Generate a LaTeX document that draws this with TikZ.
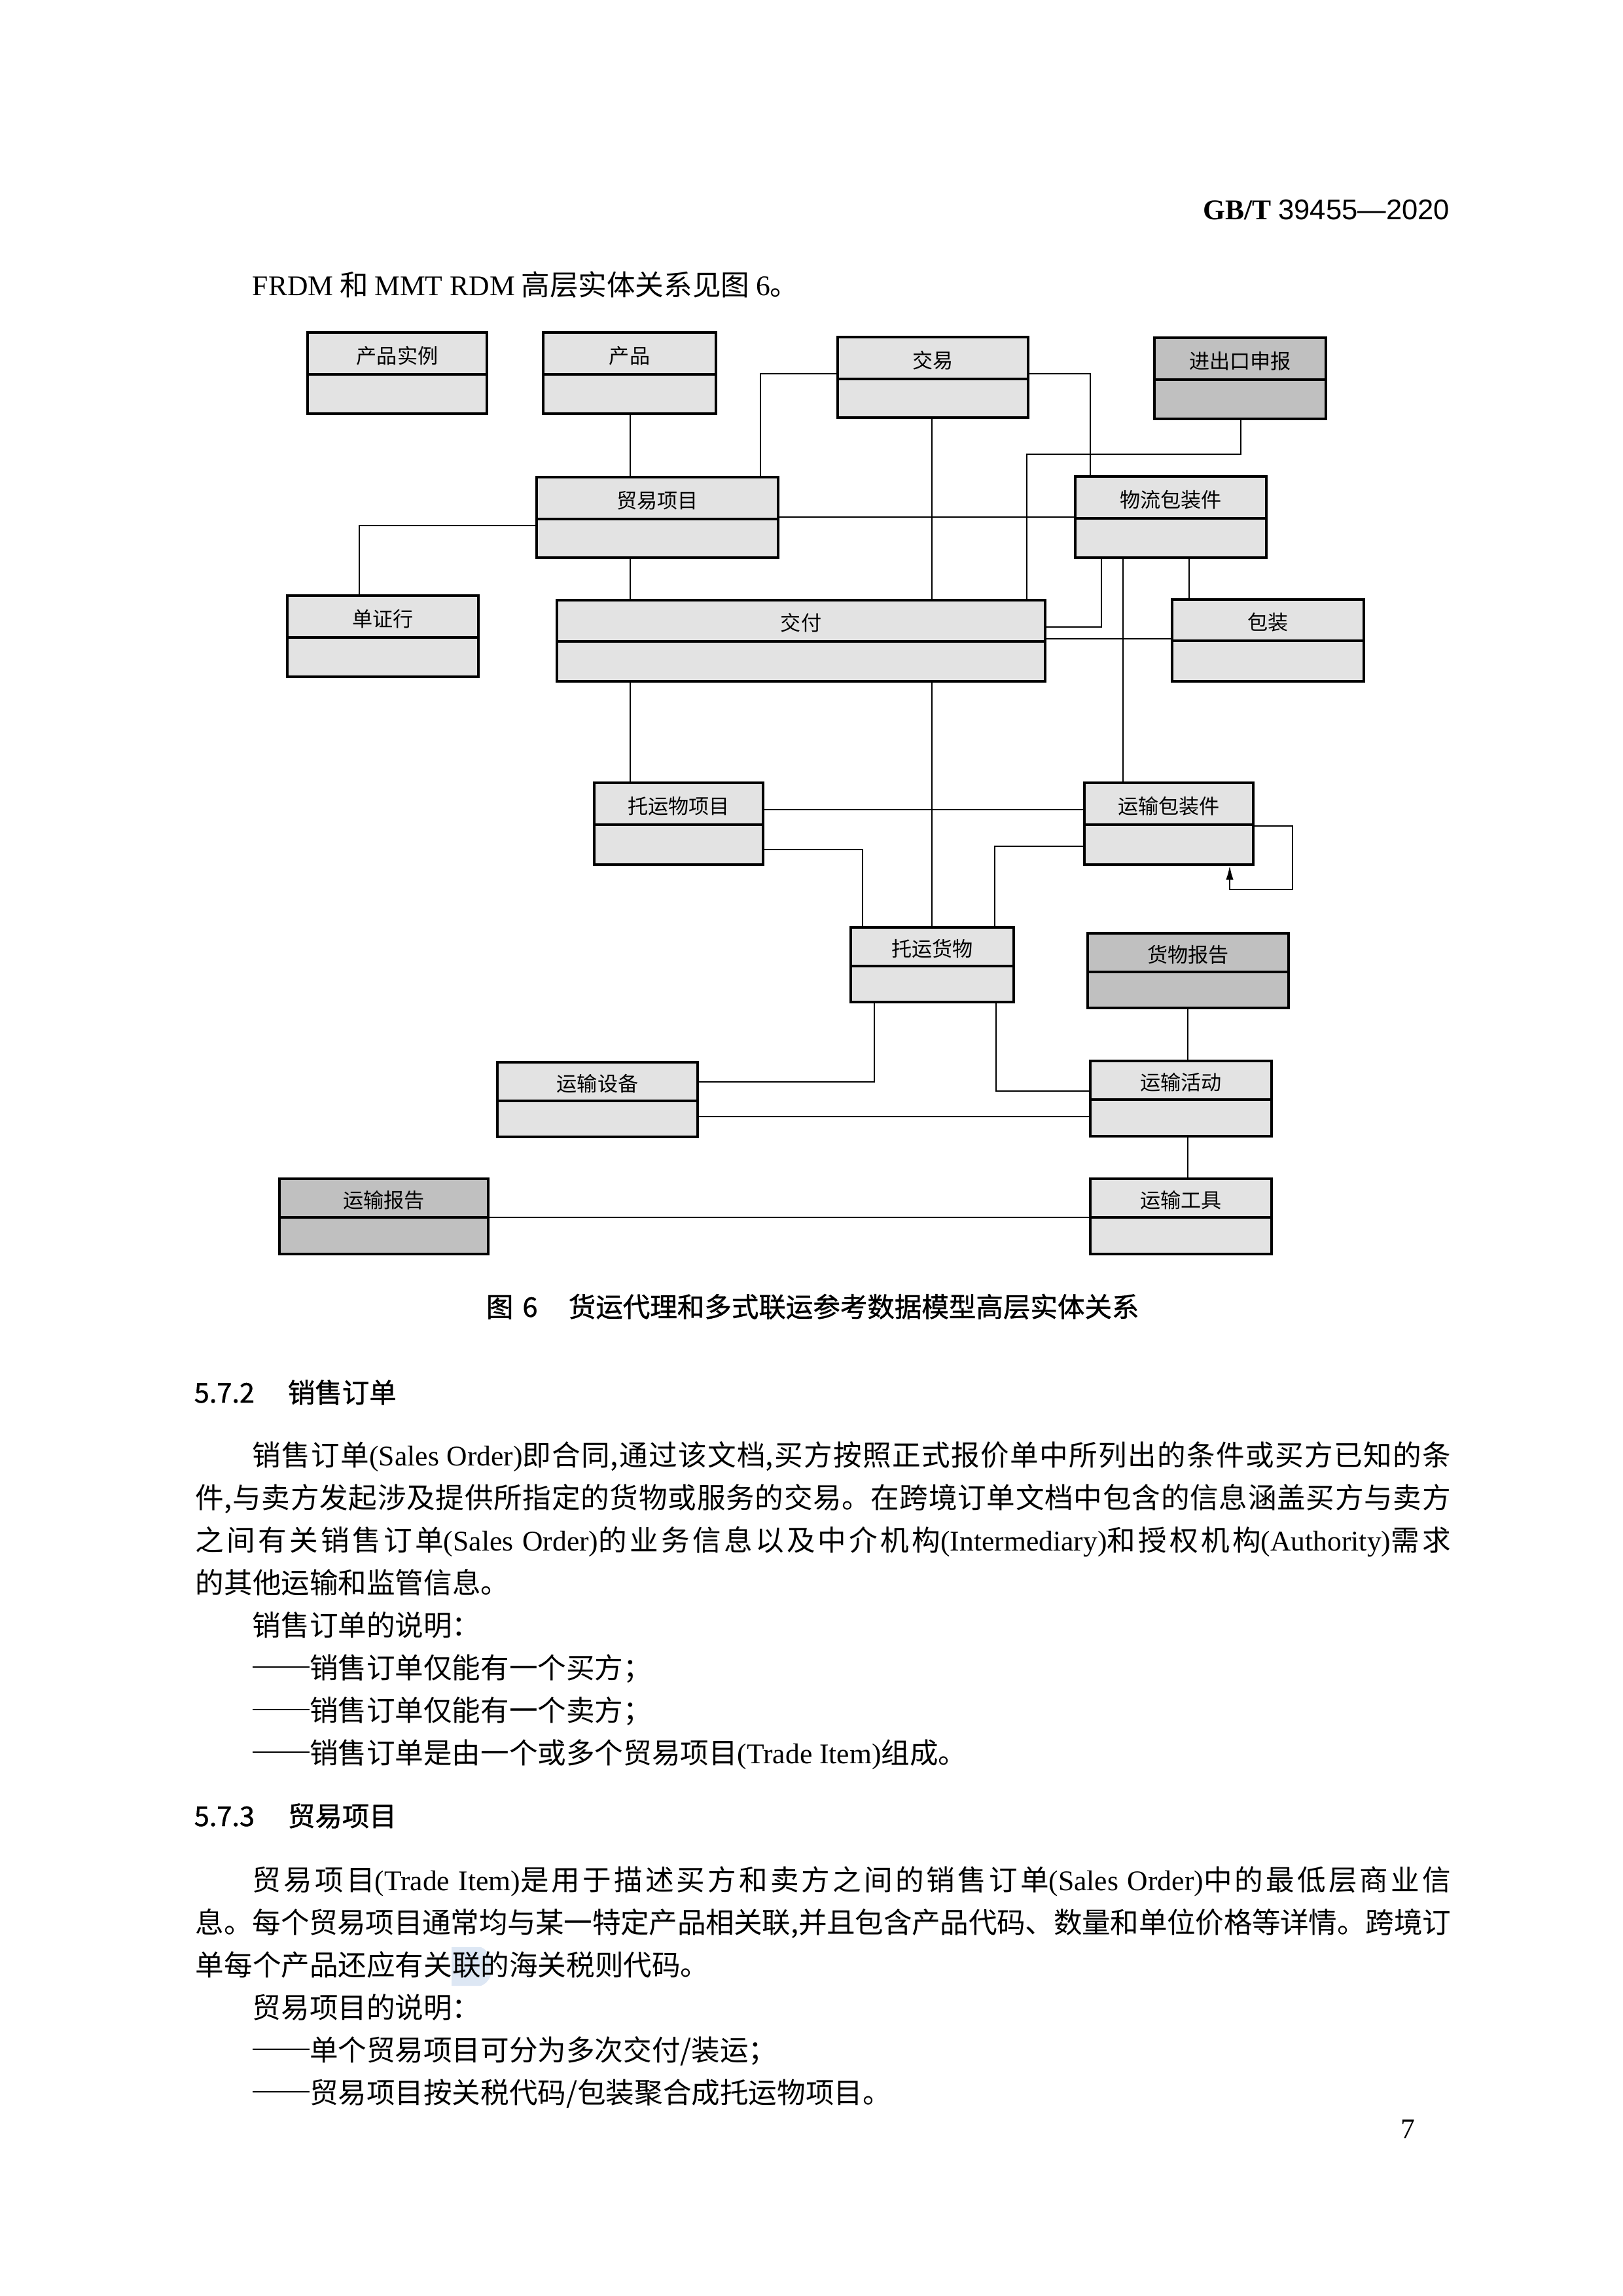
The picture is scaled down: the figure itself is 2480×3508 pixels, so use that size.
\documentclass[tikz,border=0pt]{standalone}
\usepackage{fontspec}
\setmainfont{Liberation Serif}
\setsansfont{Liberation Sans}
\newfontfamily\cjk{Noto Sans CJK SC}
\newfontfamily\hei[FakeBold=1]{Noto Sans CJK SC}
\usepackage{xcolor}
\usetikzlibrary{fit,arrows.meta}
\XeTeXlinebreaklocale "zh"
\XeTeXlinebreakskip=0pt plus 2pt minus 0.5pt
\newcommand{\lat}[1]{{\rmfamily #1}}
\newcommand{\dashes}{\rule[0.36em]{2em}{0.45pt}}
\definecolor{lightbox}{HTML}{E3E3E3}
\definecolor{darkbox}{HTML}{C0C0C0}
\definecolor{hlmark}{HTML}{DDE7F4}

\begin{document}
\begin{tikzpicture}[x=0.08467mm, y=-0.08467mm,
  entity/.style={draw=black, line width=0.75pt, fill=lightbox, inner sep=0pt},
  report/.style={entity, fill=darkbox},
  divider/.style={black, line width=0.75pt},
  boxtitle/.style={font=\cjk\fontsize{7.5pt}{9pt}\selectfont, inner sep=0pt},
  link/.style={black, line width=0.5pt},
  body/.style={anchor=base west, inner sep=0pt, font=\cjk\fontsize{10.5pt}{15.6pt}\selectfont},
  fullline/.style={body, text width=162.4mm, align=justify, execute at begin node={\parfillskip=0pt\relax}},
  indentline/.style={body, text width=155.03mm, align=justify, execute at begin node={\parfillskip=0pt\relax}},
  heading/.style={anchor=base west, inner sep=0pt, font=\hei\fontsize{10pt}{12pt}\selectfont}]
  \useasboundingbox[fill=white] (0,0) rectangle (2480,3508);

  \node[anchor=base east, inner sep=0pt, font=\fontsize{10.5pt}{12pt}\selectfont] (hdr) at (2216,335) {\textbf{GB/T} \textsf{39455—2020}};
  \node[body] (intro) at (385,451) {\lat{FRDM} 和 \lat{MMT RDM} 高层实体关系见图 \lat{6}。};

  \node[entity, fit={(470,508) (744,632)}] (cpsl) {};
  \draw[divider] (cpsl.west |- 0,572) -- (cpsl.east |- 0,572);
  \node[boxtitle] at (cpsl.north |- 0,544) {产品实例};
  \node[entity, fit={(830,508) (1094,632)}] (cp) {};
  \draw[divider] (cp.west |- 0,572) -- (cp.east |- 0,572);
  \node[boxtitle] at (cp.north |- 0,544) {产品};
  \node[entity, fit={(1280,515) (1571,638)}] (jy) {};
  \draw[divider] (jy.west |- 0,579) -- (jy.east |- 0,579);
  \node[boxtitle] at (jy.north |- 0,551) {交易};
  \node[report, fit={(1764,516) (2026,640)}] (jck) {};
  \draw[divider] (jck.west |- 0,580) -- (jck.east |- 0,580);
  \node[boxtitle] at (jck.north |- 0,552) {进出口申报};
  \node[entity, fit={(820,729) (1189,852)}] (myxm) {};
  \draw[divider] (myxm.west |- 0,793) -- (myxm.east |- 0,793);
  \node[boxtitle] at (myxm.north |- 0,765) {贸易项目};
  \node[entity, fit={(1643,728) (1935,852)}] (wlbzj) {};
  \draw[divider] (wlbzj.west |- 0,792) -- (wlbzj.east |- 0,792);
  \node[boxtitle] at (wlbzj.north |- 0,764) {物流包装件};
  \node[entity, fit={(439,910) (731,1034)}] (dzh) {};
  \draw[divider] (dzh.west |- 0,974) -- (dzh.east |- 0,974);
  \node[boxtitle] at (dzh.north |- 0,946) {单证行};
  \node[entity, fit={(851,917) (1597,1041)}] (jf) {};
  \draw[divider] (jf.west |- 0,980) -- (jf.east |- 0,980);
  \node[boxtitle] at (jf.north |- 0,952) {交付};
  \node[entity, fit={(1791,916) (2084,1041)}] (bz) {};
  \draw[divider] (bz.west |- 0,979) -- (bz.east |- 0,979);
  \node[boxtitle] at (bz.north |- 0,951) {包装};
  \node[entity, fit={(908,1196) (1166,1321)}] (tywxm) {};
  \draw[divider] (tywxm.west |- 0,1260) -- (tywxm.east |- 0,1260);
  \node[boxtitle] at (tywxm.north |- 0,1232) {托运物项目};
  \node[entity, fit={(1657,1196) (1915,1321)}] (ysbzj) {};
  \draw[divider] (ysbzj.west |- 0,1260) -- (ysbzj.east |- 0,1260);
  \node[boxtitle] at (ysbzj.north |- 0,1232) {运输包装件};
  \node[entity, fit={(1300,1417) (1549,1531)}] (tyhw) {};
  \draw[divider] (tyhw.west |- 0,1476) -- (tyhw.east |- 0,1476);
  \node[boxtitle] at (tyhw.north |- 0,1450) {托运货物};
  \node[report, fit={(1662,1426) (1969,1540)}] (hwbg) {};
  \draw[divider] (hwbg.west |- 0,1485) -- (hwbg.east |- 0,1485);
  \node[boxtitle] at (hwbg.north |- 0,1459) {货物报告};
  \node[entity, fit={(760,1623) (1066,1737)}] (yssb) {};
  \draw[divider] (yssb.west |- 0,1682) -- (yssb.east |- 0,1682);
  \node[boxtitle] at (yssb.north |- 0,1656) {运输设备};
  \node[entity, fit={(1666,1621) (1943,1736)}] (yshd) {};
  \draw[divider] (yshd.west |- 0,1680) -- (yshd.east |- 0,1680);
  \node[boxtitle] at (yshd.north |- 0,1654) {运输活动};
  \node[report, fit={(427,1801) (746,1916)}] (ysbg) {};
  \draw[divider] (ysbg.west |- 0,1860) -- (ysbg.east |- 0,1860);
  \node[boxtitle] at (ysbg.north |- 0,1834) {运输报告};
  \node[entity, fit={(1666,1801) (1943,1916)}] (ysgj) {};
  \draw[divider] (ysgj.west |- 0,1860) -- (ysgj.east |- 0,1860);
  \node[boxtitle] at (ysgj.north |- 0,1834) {运输工具};

  \draw[link] (cp.south -| 963,0) -- (myxm.north -| 963,0);
  \draw[link] (jy.west |- 0,571) -| (myxm.north -| 1162,0);
  \draw[link] (jy.east |- 0,571) -| (wlbzj.north -| 1666,0);
  \draw[link] (jy.south -| 1424,0) -- (jf.north -| 1424,0);
  \draw[link] (jck.south -| 1896,0) -- (1896,694) -| (jf.north -| 1569,0);
  \draw[link] (myxm.east |- 0,790) -- (wlbzj.west |- 0,790);
  \draw[link] (myxm.west |- 0,803) -| (dzh.north -| 549,0);
  \draw[link] (myxm.south -| 963,0) -- (jf.north -| 963,0);
  \draw[link] (wlbzj.south -| 1683,0) |- (jf.east |- 0,958);
  \draw[link] (wlbzj.south -| 1716,0) -- (ysbzj.north -| 1716,0);
  \draw[link] (wlbzj.south -| 1817,0) -- (bz.north -| 1817,0);
  \draw[link] (jf.east |- 0,976) -- (bz.west |- 0,976);
  \draw[link] (jf.south -| 963,0) -- (tywxm.north -| 963,0);
  \draw[link] (jf.south -| 1424,0) -- (tyhw.north -| 1424,0);
  \draw[link] (tywxm.east |- 0,1237) -- (ysbzj.west |- 0,1237);
  \draw[link] (tywxm.east |- 0,1298) -| (tyhw.north -| 1318,0);
  \draw[link] (ysbzj.west |- 0,1293) -| (tyhw.north -| 1520,0);
  \draw[link, -{Latex[length=1.8mm, width=0.95mm]}] (ysbzj.east |- 0,1262) -| (1975,1359) -| (ysbzj.south -| 1879,0);
  \draw[link] (tyhw.south -| 1336,0) |- (yssb.east |- 0,1653);
  \draw[link] (tyhw.south -| 1522,0) |- (yshd.west |- 0,1667);
  \draw[link] (yssb.east |- 0,1706) -- (yshd.west |- 0,1706);
  \draw[link] (hwbg.south -| 1815,0) -- (yshd.north -| 1815,0);
  \draw[link] (yshd.south -| 1815,0) -- (ysgj.north -| 1815,0);
  \draw[link] (ysbg.east |- 0,1860) -- (ysgj.west |- 0,1860);

  \node[heading] (cap) at (742,2012) {图\hspace{1.2mm}6\hspace{4mm}货运代理和多式联运参考数据模型高层实体关系};

  \node[heading] (h572) at (296,2143) {5.7.2\hspace{4.3mm}销售订单};
  \node[indentline] (p1a) at (385,2239) {销售订单\lat{(Sales Order)}即合同,通过该文档,买方按照正式报价单中所列出的条件或买方已知的条};
  \node[fullline] (p1b) at (298,2304) {件,与卖方发起涉及提供所指定的货物或服务的交易。在跨境订单文档中包含的信息涵盖买方与卖方};
  \node[fullline] (p1c) at (298,2369) {之间有关销售订单\lat{(Sales Order)}的业务信息以及中介机构\lat{(Intermediary)}和授权机构\lat{(Authority)}需求};
  \node[body] (p1d) at (298,2434) {的其他运输和监管信息。};
  \node[body] (n1) at (385,2499) {销售订单的说明：};
  \node[body] (n1a) at (385,2564) {\dashes 销售订单仅能有一个买方；};
  \node[body] (n1b) at (385,2629) {\dashes 销售订单仅能有一个卖方；};
  \node[body] (n1c) at (385,2694) {\dashes 销售订单是由一个或多个贸易项目\lat{(Trade Item)}组成。};

  \node[heading] (h573) at (296,2790) {5.7.3\hspace{4.3mm}贸易项目};
  \fill[hlmark] (690,2975) -- (735,2975) .. controls (758,2985) and (758,3025) .. (735,3034) -- (690,3034) -- cycle;
  \node[indentline] (p2a) at (385,2888) {贸易项目\lat{(Trade Item)}是用于描述买方和卖方之间的销售订单\lat{(Sales Order)}中的最低层商业信};
  \node[fullline] (p2b) at (298,2953) {息。每个贸易项目通常均与某一特定产品相关联,并且包含产品代码、数量和单位价格等详情。跨境订};
  \node[body] (p2c) at (298,3018) {单每个产品还应有关联的海关税则代码。};
  \node[body] (n2) at (385,3083) {贸易项目的说明：};
  \node[body] (n2a) at (385,3148) {\dashes 单个贸易项目可分为多次交付/装运；};
  \node[body] (n2b) at (385,3213) {\dashes 贸易项目按关税代码/包装聚合成托运物项目。};

  \node[anchor=base, inner sep=0pt, font=\fontsize{10.5pt}{12pt}\selectfont] (pg) at (2151,3267) {7};
\end{tikzpicture}
\end{document}
